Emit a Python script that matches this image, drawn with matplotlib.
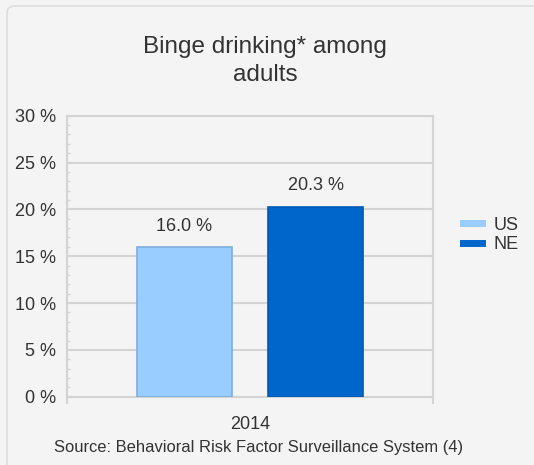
import matplotlib
matplotlib.use("Agg")
import matplotlib.pyplot as plt
from matplotlib.patches import FancyBboxPatch
from matplotlib.lines import Line2D
import matplotlib.ticker as mticker

# data
years = ["2014"]
series = ["US", "NE"]
values = [16.0, 20.3]
colors = ["#99ccff", "#0066cc"]
edges = ["#7eaedb", "#0058b5"]
y_ticks = [0, 5, 10, 15, 20, 25, 30]

plt.rcParams['font.family'] = ['Liberation Sans', 'DejaVu Sans']
bg = "#f4f4f4"
txt = "#333333"
grid = "#d4d4d4"

fig = plt.figure(figsize=(5.34, 4.65), dpi=100, facecolor=bg)

# card outline
card = FancyBboxPatch((7 / 534, -0.05), 1.1, 1.05 - 6 / 465,
                      boxstyle="round,pad=0,rounding_size=0.015",
                      transform=fig.transFigure, facecolor="none",
                      edgecolor="#dedede", linewidth=1.2, zorder=0)
fig.patches.append(card)

ax = fig.add_axes([67 / 534, 1 - 396.7 / 465, 366 / 534, 281 / 465])
ax.set_facecolor(bg)

offsets = [-0.179, 0.179]
width = 0.26
for off, v, c, e in zip(offsets, values, colors, edges):
    ax.bar(off, v, width=width, color=c, edgecolor=e, linewidth=1.2, zorder=3)
    ax.text(off, v + 1.3, f"{v:.1f} %", ha="center", va="bottom",
            fontsize=13, color=txt)

ax.set_xlim(-0.5, 0.5)
ax.set_ylim(0, 30)
ax.set_yticks(y_ticks)
ax.yaxis.set_major_formatter(mticker.FuncFormatter(lambda y, p: f"{y:.0f} %"))
ax.yaxis.set_minor_locator(mticker.MultipleLocator(1))
ax.tick_params(axis="y", which="major", length=0, pad=8, labelsize=13, labelcolor=txt)
ax.tick_params(axis="y", which="minor", direction="in", length=2, color=grid, width=1)
ax.grid(axis="y", color=grid, linewidth=1.5, zorder=1)

ax.set_xticks([-0.5, 0.5])
ax.set_xticklabels(["", ""])
ax.tick_params(axis="x", which="major", length=5, color=grid, width=1.5)
ax.set_xticks([0], minor=True)
ax.set_xticklabels(years, minor=True)
ax.tick_params(axis="x", which="minor", length=0, pad=14, labelsize=13, labelcolor=txt)

for s in ax.spines.values():
    s.set_color(grid)
    s.set_linewidth(1.5)

handles = [Line2D([], [], color=c, linewidth=5) for c in colors]
fig.legend(handles, series, loc="center left", bbox_to_anchor=(450 / 534, 1 - 235 / 465),
           frameon=False, fontsize=13, labelcolor=txt, handlelength=1.1,
           handletextpad=0.6, labelspacing=0.15, borderpad=0.2)

fig.text(0.497, 1 - 61 / 465, "Binge drinking* among\nadults", ha="center", va="center",
         fontsize=17.5, color=txt, linespacing=1.3)
fig.text(258 / 534, 1 - 447 / 465, "Source: Behavioral Risk Factor Surveillance System (4)",
         ha="center", va="center", fontsize=11.9, color=txt)

fig.savefig("out.png", dpi=100, facecolor=bg)
